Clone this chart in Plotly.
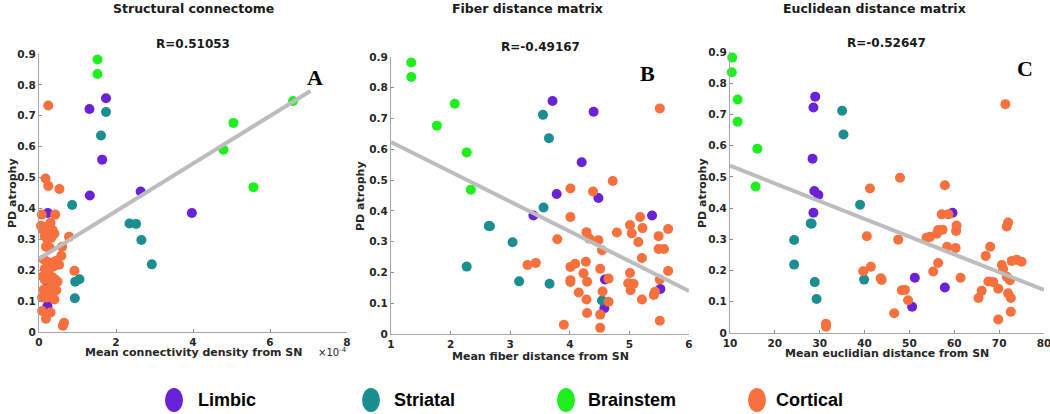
import plotly.graph_objects as go

W, H = 1050, 414

# ---------------- data ----------------
groups = ["Limbic", "Striatal", "Brainstem", "Cortical"]
colors = {"Limbic": "#6a22d8", "Striatal": "#1c8e91", "Brainstem": "#1ef01e", "Cortical": "#f7703d"}

limbic_y = [0.757, 0.722, 0.558, 0.455, 0.442, 0.385, 0.385, 0.177, 0.146, 0.084]
limbic_xA = [1.74, 1.31, 1.64, 2.64, 1.32, 3.97, 0.23, 0.25, 0.22, 0.22]
limbic_xB = [3.71, 4.40, 4.20, 3.78, 4.48, 3.39, 5.38, 4.59, 5.52, 4.58]
limbic_xC = [29.0, 28.6, 28.4, 28.8, 29.7, 28.6, 59.6, 51.2, 57.9, 50.6]

striatal_y = [0.712, 0.636, 0.411, 0.351, 0.350, 0.298, 0.219, 0.171, 0.163, 0.109]
striatal_xA = [1.74, 1.61, 0.86, 2.35, 2.52, 2.66, 2.93, 1.05, 0.94, 0.93]
striatal_xB = [3.55, 3.65, 3.56, 2.64, 2.66, 3.04, 2.27, 3.15, 3.66, 4.54]
striatal_xC = [35.0, 35.3, 39.0, 28.0, 28.2, 24.3, 24.3, 39.9, 28.9, 29.3]

brainstem_y = [0.882, 0.835, 0.748, 0.677, 0.590, 0.469]
brainstem_xA = [1.52, 1.52, 6.60, 5.05, 4.79, 5.57]
brainstem_xB = [1.34, 1.34, 2.07, 1.77, 2.27, 2.34]
brainstem_xC = [10.5, 10.4, 11.7, 11.7, 16.1, 15.7]

cortical_y = [0.733, 0.497, 0.473, 0.463, 0.380, 0.380, 0.354, 0.344, 0.341, 0.331,
              0.330, 0.327, 0.318, 0.310, 0.308, 0.305, 0.299, 0.276, 0.276, 0.272,
              0.247, 0.235, 0.231, 0.228, 0.224, 0.218, 0.212, 0.205, 0.198, 0.197,
              0.180, 0.177, 0.175, 0.170, 0.169, 0.165, 0.163, 0.142, 0.138, 0.137,
              0.135, 0.127, 0.112, 0.112, 0.105, 0.068, 0.063, 0.043, 0.030, 0.020]
cortical_xA = [0.24, 0.17, 0.24, 0.53, 0.07, 0.42, 0.30, 0.05, 0.20, 0.10,
               0.35, 0.25, 0.40, 0.15, 0.78, 0.32, 0.22, 0.60, 0.18, 0.28,
               0.58, 0.12, 0.45, 0.20, 0.30, 0.52, 0.38, 0.15, 0.92, 0.25,
               0.10, 0.35, 0.22, 0.42, 0.15, 0.30, 0.48, 0.38, 0.25, 0.12,
               0.45, 0.32, 0.08, 0.20, 0.40, 0.08, 0.30, 0.18, 0.65, 0.62]
cortical_xB = [5.51, 4.72, 4.01, 4.39, 4.01, 5.18, 5.01, 5.22, 5.65, 4.28,
               4.79, 5.04, 5.49, 4.33, 3.79, 4.48, 5.15, 5.49, 5.58, 4.54,
               5.21, 4.27, 3.43, 4.09, 3.29, 4.01, 4.51, 5.65, 5.01, 4.23,
               4.65, 5.51, 4.01, 4.29, 4.01, 4.98, 5.07, 5.02, 4.55, 5.43,
               4.15, 5.41, 5.21, 4.28, 4.65, 4.29, 4.51, 5.51, 3.90, 4.51]
cortical_xC = [71.4, 47.9, 57.9, 41.2, 57.2, 58.7, 72.0, 60.5, 71.7, 57.4,
               56.4, 60.4, 56.1, 40.5, 54.6, 53.8, 47.5, 58.4, 68.0, 60.3,
               67.0, 73.9, 72.8, 75.0, 56.4, 70.6, 41.4, 70.9, 39.7, 55.3,
               71.7, 61.4, 43.6, 43.8, 72.4, 67.6, 68.7, 69.8, 49.0, 48.3,
               66.1, 72.0, 65.4, 72.6, 49.7, 72.6, 46.6, 69.8, 31.4, 31.4]

fit_xA, fit_yA = [0.0, 7.05], [0.237, 0.780]
fit_xB, fit_yB = [1.0, 6.0], [0.624, 0.140]
fit_xC, fit_yC = [10.0, 80.0], [0.536, 0.138]

panel_titles = ["Structural connectome", "Fiber distance matrix", "Euclidean distance matrix"]
r_labels = ["R=0.51053", "R=-0.49167", "R=-0.52647"]
panel_letters = ["A", "B", "C"]
x_titles = ["Mean connectivity density from SN", "Mean fiber distance from SN",
            "Mean euclidian distance from SN"]
y_title = "PD atrophy"
x_ticks = [[0, 2, 4, 6, 8], [1, 2, 3, 4, 5, 6], [10, 20, 30, 40, 50, 60, 70, 80]]
x_ranges = [[0, 8], [1, 6], [10, 80]]
y_ticks = [0, 0.1, 0.2, 0.3, 0.4, 0.5, 0.6, 0.7, 0.8, 0.9]
y_ticklabels = ["0", "0.1", "0.2", "0.3", "0.4", "0.5", "0.6", "0.7", "0.8", "0.9"]

# ---------------- layout geometry (pixels) ----------------
axes_px = [  # left, right, bottom(y=0), top(y=0.9)
    (39, 347, 332, 54),
    (391, 689, 334, 57),
    (730, 1044, 333, 52),
]

def px(x):
    return x / W

def py(y):
    return 1 - y / H

FONT = "DejaVu Sans"
BOLD = "DejaVu Sans"

fig = go.Figure()

data_by_panel = [
    {"Limbic": (limbic_xA, limbic_y), "Striatal": (striatal_xA, striatal_y),
     "Brainstem": (brainstem_xA, brainstem_y), "Cortical": (cortical_xA, cortical_y)},
    {"Limbic": (limbic_xB, limbic_y), "Striatal": (striatal_xB, striatal_y),
     "Brainstem": (brainstem_xB, brainstem_y), "Cortical": (cortical_xB, cortical_y)},
    {"Limbic": (limbic_xC, limbic_y), "Striatal": (striatal_xC, striatal_y),
     "Brainstem": (brainstem_xC, brainstem_y), "Cortical": (cortical_xC, cortical_y)},
]
fits = [(fit_xA, fit_yA), (fit_xB, fit_yB), (fit_xC, fit_yC)]

for i in range(3):
    suffix = "" if i == 0 else str(i + 1)
    for g in groups:
        xs, ys = data_by_panel[i][g]
        fig.add_trace(go.Scatter(
            x=xs, y=ys, mode="markers", name=g, showlegend=False, cliponaxis=False,
            xaxis="x" + suffix, yaxis="y" + suffix,
            marker=dict(size=10, color=colors[g], line=dict(width=0)),
        ))
    fx, fy = fits[i]
    fig.add_trace(go.Scatter(
        x=fx, y=fy, mode="lines", showlegend=False, cliponaxis=False,
        xaxis="x" + suffix, yaxis="y" + suffix,
        line=dict(color="#bdbdbd", width=4),
    ))

layout = dict(
    width=W, height=H, margin=dict(l=0, r=0, t=0, b=0, autoexpand=False),
    paper_bgcolor="white", plot_bgcolor="white", showlegend=False,
)
annotations = []
shapes = []
tickfont = dict(family=BOLD, size=10.5, color="#262626", weight="bold")
for i in range(3):
    l, r, b, t = axes_px[i]
    key = "" if i == 0 else str(i + 1)
    layout["xaxis" + key] = dict(
        domain=[px(l), px(r)], range=x_ranges[i], anchor="y" + key, automargin=False,
        tickvals=x_ticks[i], ticks="inside", ticklen=3, tickcolor="#8c8c8c",
        ticklabeloverflow="allow",
        showline=True, linecolor="#a6a6a6", linewidth=1, showgrid=False, zeroline=False,
        tickfont=tickfont, fixedrange=True,
    )
    layout["yaxis" + key] = dict(
        domain=[py(b), py(t)], range=[0, 0.9], anchor="x" + key, automargin=False,
        tickvals=y_ticks, ticktext=y_ticklabels, ticks="inside", ticklen=3, tickcolor="#8c8c8c",
        showline=True, linecolor="#a6a6a6", linewidth=1, showgrid=False, zeroline=False,
        tickfont=tickfont, fixedrange=True,
    )

# panel titles, R labels, axis labels, panel letters
title_pos = [(193, 9), (527, 9), (874, 9)]
r_pos = [(193, 44), (540, 47), (886, 43)]
xl_pos = [(193, 352), (540, 356), (887, 353)]
yl_pos = [(12, 193), (360, 196), (702, 193)]
letter_pos = [(315, 78), (647, 73), (1025, 68)]
for i in range(3):
    annotations.append(dict(text=panel_titles[i], x=px(title_pos[i][0]), y=py(title_pos[i][1]),
                            xref="paper", yref="paper", showarrow=False, xanchor="center", yanchor="middle",
                            font=dict(family=BOLD, size=12.5, color="#1a1a1a", weight="bold")))
    annotations.append(dict(text=r_labels[i], x=px(r_pos[i][0]), y=py(r_pos[i][1]),
                            xref="paper", yref="paper", showarrow=False, xanchor="center", yanchor="middle",
                            font=dict(family=BOLD, size=12, color="#1a1a1a", weight="bold")))
    annotations.append(dict(text=x_titles[i], x=px(xl_pos[i][0]), y=py(xl_pos[i][1]),
                            xref="paper", yref="paper", showarrow=False, xanchor="center", yanchor="middle",
                            font=dict(family=BOLD, size=11, color="#262626", weight="bold")))
    annotations.append(dict(text=y_title, x=px(yl_pos[i][0]), y=py(yl_pos[i][1]), textangle=-90,
                            xref="paper", yref="paper", showarrow=False, xanchor="center", yanchor="middle",
                            font=dict(family=BOLD, size=11, color="#262626", weight="bold")))
    annotations.append(dict(text=panel_letters[i], x=px(letter_pos[i][0]), y=py(letter_pos[i][1]),
                            xref="paper", yref="paper", showarrow=False, xanchor="center", yanchor="middle",
                            font=dict(family="Liberation Serif", size=22, color="black", weight="bold")))

annotations.append(dict(text="×10<sup>-4</sup>", x=px(333), y=py(352), xref="paper", yref="paper",
                        showarrow=False, xanchor="center", yanchor="middle",
                        font=dict(family=FONT, size=10, color="#262626")))

# legend (manual)
leg_marker_x = [174, 371, 566, 757]
leg_text_x = [196, 392, 586, 774]
leg_y = 400
for g, mx, tx in zip(groups, leg_marker_x, leg_text_x):
    shapes.append(dict(type="circle", xref="paper", yref="paper",
                       x0=px(mx - 9), x1=px(mx + 9), y0=py(leg_y + 12), y1=py(leg_y - 12),
                       fillcolor=colors[g], line=dict(width=0)))
    annotations.append(dict(text=g, x=px(tx), y=py(leg_y), xref="paper", yref="paper",
                            showarrow=False, xanchor="left", yanchor="middle",
                            font=dict(family="Liberation Sans", size=18, color="black", weight="bold")))

layout["annotations"] = annotations
layout["shapes"] = shapes
fig.update_layout(**layout)
fig.write_html("out.html", config={"displayModeBar": False},
               post_script="document.body.style.margin='0';document.body.style.overflow='hidden';")
